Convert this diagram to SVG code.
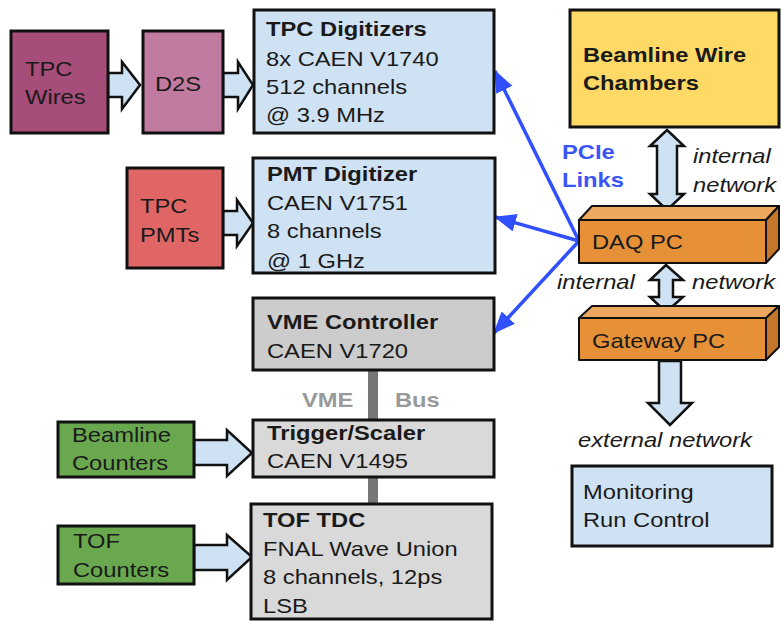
<svg xmlns="http://www.w3.org/2000/svg" width="782" height="621" viewBox="0 0 782 621">
<defs>
<style>
.t{font-family:"Liberation Sans",Arial,sans-serif;font-size:21px;fill:#1a1a1a}
.b{font-weight:bold}
.i{font-style:italic}
.box{stroke:#111;stroke-width:3}
.fat{fill:#cfe2f3;stroke:#111;stroke-width:2.5;stroke-linejoin:miter}
.blue{stroke:#3050ff;stroke-width:3.5;fill:none}
.pc{stroke:#111;stroke-width:2;stroke-linejoin:round}
</style>
<marker id="bh" markerUnits="userSpaceOnUse" markerWidth="24" markerHeight="20" refX="21" refY="9" orient="auto">
<path d="M0,0 L22,9 L0,18 Z" fill="#3050ff"/>
</marker>
</defs>
<rect width="782" height="621" fill="#ffffff"/>

<g id="vme-bus">
<rect x="368" y="370" width="10" height="134" fill="#777777"/>
<text class="t b" fill="#999" style="fill:#999" transform="translate(302 0) scale(1.13 1)"><tspan x="0" y="407">VME</tspan></text>
<text class="t b" style="fill:#999" transform="translate(395 0) scale(1.13 1)"><tspan x="0" y="407">Bus</tspan></text>
</g>

<g id="connectors">
<polygon class="fat" points="108,73 122,73 122,62 140,85 122,109 122,97 108,97"/>
<polygon class="fat" points="223,73 238,73 238,62 253,85 238,109 238,97 223,97"/>
<polygon class="fat" points="223,211 237,211 237,200 253,223 237,246 237,235 223,235"/>
<polygon class="fat" points="194,440 227,440 227,430 252,453 227,476 227,465 194,465"/>
<polygon class="fat" points="194,545 227,545 227,535 252,557 227,580 227,570 194,570"/>
<polygon class="fat" points="667,130 684,146 677,146 677,194 684,194 667,210 650,194 657,194 657,146 650,146"/>
<polygon class="fat" points="666,265 683,280 673,280 673,297 683,297 666,312 650,297 659,297 659,280 650,280"/>
<polygon class="fat" points="659,361 681,361 681,403 692,403 670,425 648,403 659,403"/>
<line class="blue" x1="579" y1="241" x2="495" y2="71" marker-end="url(#bh)"/>
<line class="blue" x1="579" y1="241" x2="495" y2="217" marker-end="url(#bh)"/>
<line class="blue" x1="579" y1="241" x2="494" y2="333" marker-end="url(#bh)"/>
<text class="t b" style="fill:#3a55f5" transform="translate(562 0) scale(1.13 1)"><tspan x="0" y="159">PCIe</tspan><tspan x="0" y="187">Links</tspan></text>
<text class="t i" transform="translate(693 0) scale(1.13 1)"><tspan x="0" y="163">internal</tspan><tspan x="0" y="192">network</tspan></text>
<text class="t i" transform="translate(557 0) scale(1.13 1)"><tspan x="0" y="289">internal</tspan></text>
<text class="t i" transform="translate(692 0) scale(1.13 1)"><tspan x="0" y="289">network</tspan></text>
<text class="t i" transform="translate(578 0) scale(1.13 1)"><tspan x="0" y="447">external network</tspan></text>
</g>

<g id="tpc-wires">
<rect class="box" x="11" y="31" width="97" height="102" fill="#a64d79"/>
<text class="t" transform="translate(25 0) scale(1.13 1)"><tspan x="0" y="76">TPC</tspan><tspan x="0" y="104">Wires</tspan></text>
</g>

<g id="d2s">
<rect class="box" x="143" y="31" width="80" height="102" fill="#c27ba0"/>
<text class="t" transform="translate(155 0) scale(1.13 1)"><tspan x="0" y="91">D2S</tspan></text>
</g>

<g id="tpc-digitizers">
<rect class="box" x="254" y="10" width="240" height="123" fill="#cfe2f3"/>
<text class="t" transform="translate(266 0) scale(1.13 1)"><tspan x="0" y="36" class="b" font-weight="bold">TPC Digitizers</tspan><tspan x="0" y="66">8x CAEN V1740</tspan><tspan x="0" y="94">512 channels</tspan><tspan x="0" y="122">@ 3.9 MHz</tspan></text>
</g>

<g id="tpc-pmts">
<rect class="box" x="127" y="168" width="96" height="100" fill="#e06666"/>
<text class="t" transform="translate(140 0) scale(1.13 1)"><tspan x="0" y="213">TPC</tspan><tspan x="0" y="242">PMTs</tspan></text>
</g>

<g id="pmt-digitizer">
<rect class="box" x="253" y="158" width="242" height="115" fill="#cfe2f3"/>
<text class="t" transform="translate(267 0) scale(1.13 1)"><tspan x="0" y="181" font-weight="bold">PMT Digitizer</tspan><tspan x="0" y="210">CAEN V1751</tspan><tspan x="0" y="238">8 channels</tspan><tspan x="0" y="268">@ 1 GHz</tspan></text>
</g>

<g id="vme-controller">
<rect class="box" x="253" y="298" width="241" height="72" fill="#cccccc"/>
<text class="t" transform="translate(267 0) scale(1.13 1)"><tspan x="0" y="329" font-weight="bold">VME Controller</tspan><tspan x="0" y="358">CAEN V1720</tspan></text>
</g>

<g id="trigger-scaler">
<rect class="box" x="253" y="420" width="241" height="57" fill="#d9d9d9"/>
<text class="t" transform="translate(267 0) scale(1.13 1)"><tspan x="0" y="440" font-weight="bold">Trigger/Scaler</tspan><tspan x="0" y="468">CAEN V1495</tspan></text>
</g>

<g id="beamline-counters">
<rect class="box" x="58" y="422" width="136" height="55" fill="#6aa84f"/>
<text class="t" transform="translate(72 0) scale(1.13 1)"><tspan x="0" y="442">Beamline</tspan><tspan x="0" y="470">Counters</tspan></text>
</g>

<g id="tof-tdc">
<rect class="box" x="251" y="504" width="241" height="115" fill="#d9d9d9"/>
<text class="t" transform="translate(263 0) scale(1.13 1)"><tspan x="0" y="527" font-weight="bold">TOF TDC</tspan><tspan x="0" y="556">FNAL Wave Union</tspan><tspan x="0" y="584">8 channels, 12ps</tspan><tspan x="0" y="613">LSB</tspan></text>
</g>

<g id="tof-counters">
<rect class="box" x="58" y="526" width="136" height="58" fill="#6aa84f"/>
<text class="t" transform="translate(73 0) scale(1.13 1)"><tspan x="0" y="548">TOF</tspan><tspan x="0" y="577">Counters</tspan></text>
</g>

<g id="beamline-wire-chambers">
<rect class="box" x="570" y="10" width="209" height="117" fill="#ffd966"/>
<text class="t" transform="translate(583 0) scale(1.13 1)"><tspan x="0" y="62" font-weight="bold">Beamline Wire</tspan><tspan x="0" y="90" font-weight="bold">Chambers</tspan></text>
</g>

<g id="daq-pc">
<polygon class="pc" points="579,220 592,206 779,206 766,220" fill="#eda75e"/>
<polygon class="pc" points="766,220 779,206 779,249 766,263" fill="#c4772a"/>
<rect class="pc" x="579" y="220" width="187" height="43" fill="#e69138"/>
<text class="t" transform="translate(592 0) scale(1.13 1)"><tspan x="0" y="249">DAQ PC</tspan></text>
</g>

<g id="gateway-pc">
<polygon class="pc" points="579,318 592,306 779,306 766,318" fill="#eda75e"/>
<polygon class="pc" points="766,318 779,306 779,347 766,360" fill="#c4772a"/>
<rect class="pc" x="579" y="318" width="187" height="42" fill="#e69138"/>
<text class="t" transform="translate(592 0) scale(1.13 1)"><tspan x="0" y="348">Gateway PC</tspan></text>
</g>

<g id="monitoring">
<rect class="box" x="572" y="466" width="200" height="80" fill="#cfe2f3"/>
<text class="t" transform="translate(583 0) scale(1.13 1)"><tspan x="0" y="499">Monitoring</tspan><tspan x="0" y="527">Run Control</tspan></text>
</g>
</svg>
